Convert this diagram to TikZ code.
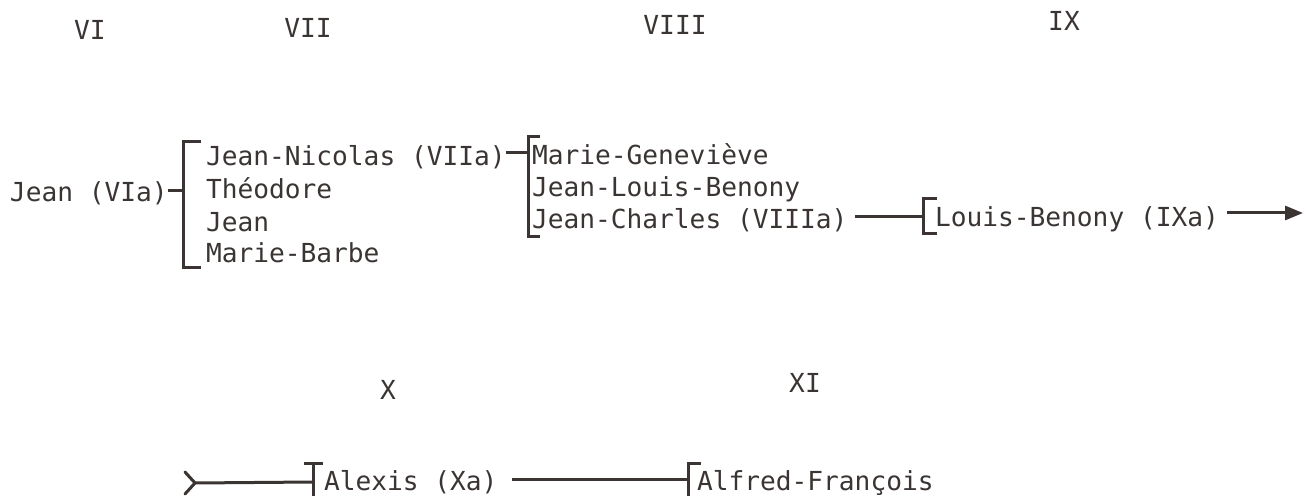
\documentclass[tikz,border=0pt]{standalone}
\usepackage{fontspec}
\setmonofont{DejaVu Sans Mono}
\usetikzlibrary{arrows.meta,calc}
\definecolor{ink}{RGB}{58,53,51}
\tikzset{
  lbl/.style={inner sep=0pt, outer sep=0pt, anchor=base west, text=ink, font=\ttfamily\fontsize{13.1}{15}\selectfont},
  hdr/.style={inner sep=0pt, anchor=center, text=ink, font=\ttfamily\fontsize{13.1}{15}\selectfont},
  brk/.style={draw=ink, line width=1.5pt, line cap=rect},
  con/.style={draw=ink, line width=1.5pt},
}
\begin{document}
\begin{tikzpicture}[x=0.5pt,y=-0.5pt]
\useasboundingbox (0,0) rectangle (1316,496);
% headers
\node[hdr] (hVI) at (90,30) {VI};
\node[hdr] (hVII) at (308,28) {VII};
\node[hdr] (hVIII) at (675,25) {VIII};
\node[hdr] (hIX) at (1064,21) {IX};
\node[hdr] (hX) at (388,390) {X};
\node[hdr] (hXI) at (805,383) {XI};
% generation VI
\node[lbl] (jean) at (10,202) {Jean (VIa)};
% bracket 1
\coordinate (b1t) at (183,142); \coordinate (b1b) at (183,268); \coordinate (b1m) at (183,191);
\draw[brk] (199,142) -- (b1t) -- (b1b) -- (199,268);
\draw[con] (jean.east |- b1m) -- (b1m);
\node[lbl] (jn) at (206,166) {Jean-Nicolas (VIIa)};
\node[lbl] (th) at (206,199) {Théodore};
\node[lbl] (je) at (206,232) {Jean};
\node[lbl] (mb) at (206,263) {Marie-Barbe};
% bracket 2
\coordinate (b2t) at (528,137); \coordinate (b2b) at (528,237); \coordinate (b2m) at (528,153);
\draw[brk] (538,137) -- (b2t) -- (b2b) -- (538,237);
\draw[con] (jn.east |- b2m) -- (b2m);
\node[lbl] (mg) at (532,165) {Marie-Geneviève};
\node[lbl] (jlb) at (532,197) {Jean-Louis-Benony};
\node[lbl] (jc) at (532,229) {Jean-Charles (VIIIa)};
% bracket 3
\coordinate (b3t) at (923,199); \coordinate (b3b) at (923,234); \coordinate (b3m) at (923,217);
\draw[brk] (935,199) -- (b3t) -- (b3b) -- (935,234);
\draw[con] ([xshift=4pt]jc.east |- b3m) -- (b3m);
\node[lbl] (lb) at (935,227) {Louis-Benony (IXa)};
\coordinate (arr) at (1303,213);
\draw[con,-{Triangle[length=9pt,width=7pt]}] ([xshift=4pt]lb.east |- arr) -- (arr);
% bottom row
\coordinate (c4s) at (195,483);
\draw[con, line cap=round] ($(c4s)+(-10,-11)$) -- (c4s) -- ($(c4s)+(-10,11)$);
\coordinate (b4t) at (313,463); \coordinate (b4b) at (313,496); \coordinate (b4m) at (313,482);
\draw[brk] (305,463) -- (321,463);
\draw[brk] (b4t) -- (b4b);
\draw[con] (c4s) -- (b4m);
\node[lbl] (al) at (324,490) {Alexis (Xa)};
\coordinate (b5t) at (688,463); \coordinate (b5b) at (688,496); \coordinate (b5m) at (688,479);
\draw[brk] (699,463) -- (b5t) -- (b5b);
\draw[con] ([xshift=7pt]al.east |- b5m) -- (b5m);
\node[lbl] (af) at (697,490) {Alfred-François};
\end{tikzpicture}
\end{document}
